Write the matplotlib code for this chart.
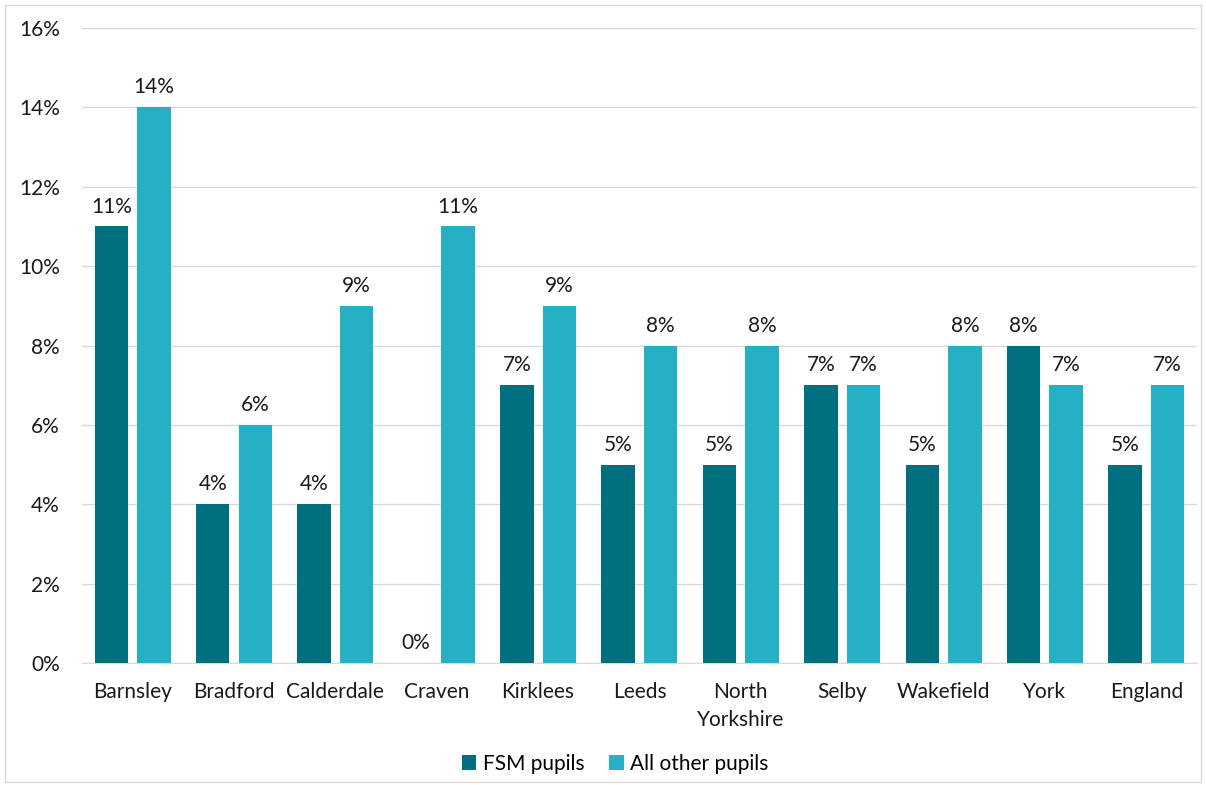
import numpy as np
import matplotlib.pyplot as plt
from matplotlib.patches import Rectangle

plt.rcParams['font.family'] = ['Lato', 'DejaVu Sans']

areas = ['Barnsley', 'Bradford', 'Calderdale', 'Craven', 'Kirklees', 'Leeds',
         'North\nYorkshire', 'Selby', 'Wakefield', 'York', 'England']
fsm = [11, 4, 4, 0, 7, 5, 5, 7, 5, 8, 5]
other = [14, 6, 9, 11, 9, 8, 8, 7, 8, 7, 7]
yticks = [0, 2, 4, 6, 8, 10, 12, 14, 16]

dark = '#006F7E'
light = '#25B0C6'
fs = 15

fig = plt.figure(figsize=(12.06, 7.85), dpi=100)
ax = fig.add_axes([0.068, 0.1554, 0.9245, 0.8089])

x = np.arange(len(areas))
w = 0.33
off = 0.21
b1 = ax.bar(x - off, fsm, w, color=dark, label='FSM pupils', zorder=3)
b2 = ax.bar(x + off, other, w, color=light, label='All other pupils', zorder=3)

# value labels above each bar
for bars, vals in ((b1, fsm), (b2, other)):
    for rect, v in zip(bars, vals):
        ax.text(rect.get_x() + rect.get_width() / 2, v + 0.25, f'{v}%',
                ha='center', va='bottom', fontsize=fs, color='#1a1a1a')

ax.set_xlim(-0.5, len(areas) - 0.5)
ax.set_ylim(0, 16)
ax.set_yticks(yticks)
ax.set_yticklabels([f'{t}%' for t in yticks], fontsize=fs, color='#1a1a1a')
ax.set_xticks(x)
ax.set_xticklabels(areas, fontsize=fs, color='#1a1a1a', linespacing=1.45)
ax.tick_params(axis='both', length=0)
ax.tick_params(axis='x', pad=14)
ax.tick_params(axis='y', pad=16)
ax.grid(axis='y', color='#D9D9D9', linewidth=1, zorder=0)
for s in ['top', 'right', 'left']:
    ax.spines[s].set_visible(False)
ax.spines['bottom'].set_color('#D9D9D9')

leg = fig.legend(handles=[b1, b2], loc='center', bbox_to_anchor=(0.51, 0.027),
                 ncol=2, frameon=False, fontsize=fs, handlelength=0.7,
                 handleheight=0.7, handletextpad=0.3, columnspacing=1.2)

# thin grey frame round the whole chart
fig.patches.append(Rectangle((0.004, 0.004), 0.992, 0.99, transform=fig.transFigure,
                             fill=False, edgecolor='#D9D9D9', linewidth=1))

fig.savefig('out.png', dpi=100)
